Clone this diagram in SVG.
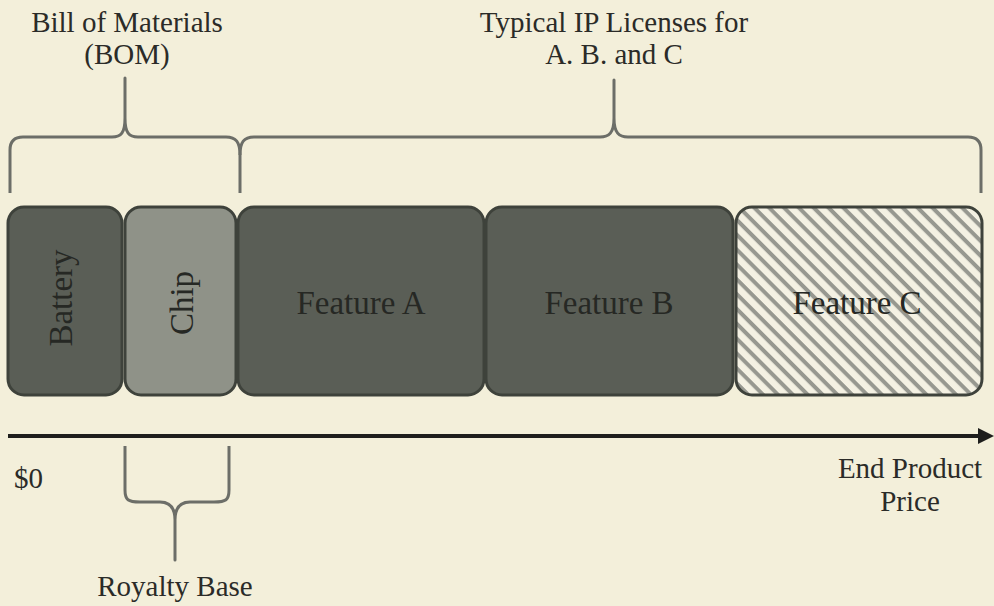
<svg xmlns="http://www.w3.org/2000/svg" width="994" height="606" viewBox="0 0 994 606">
<defs>
<style>
.lbl{font-family:"Liberation Serif","Times New Roman",serif;font-size:29px;fill:#2b2b28;text-anchor:middle}
.box{stroke:#3e423b;stroke-width:3}
.dark{fill:#5a5e56}
.chip{fill:#8f9288}
.btxt{font-family:"Liberation Serif","Times New Roman",serif;font-size:33px;fill:#262824;text-anchor:middle}
.brace{fill:none;stroke:#6c6e68;stroke-width:3;stroke-linejoin:round}
</style>
<pattern id="hatch" patternUnits="userSpaceOnUse" width="10.5" height="10.5" patternTransform="rotate(45)">
<rect width="10.5" height="10.5" fill="#f4f1e3"/>
<rect y="0" width="10.5" height="4" fill="#979890"/>
</pattern>
<marker id="arr" markerWidth="4" markerHeight="4" refX="0.5" refY="2" orient="auto" markerUnits="strokeWidth">
<path d="M0,0 L4,2 L0,4 Z" fill="#1e1e1c"/>
</marker>
</defs>
<rect width="994" height="606" fill="#f3efda"/>

<g id="label-bom">
<text class="lbl" x="127" y="32">Bill of Materials</text>
<text class="lbl" x="127" y="64">(BOM)</text>
</g>
<g id="label-ip">
<text class="lbl" x="614" y="32">Typical IP Licenses for</text>
<text class="lbl" x="614" y="64">A. B. and C</text>
</g>

<g id="battery">
<rect class="box dark" x="8" y="207" width="114" height="188" rx="16"/>
<text class="btxt" transform="translate(72,298) rotate(-90)">Battery</text>
</g>
<g id="chip">
<rect class="box chip" x="125" y="207" width="111" height="188" rx="16"/>
<text class="btxt" transform="translate(193,303) rotate(-90)">Chip</text>
</g>
<g id="feature-a">
<rect class="box dark" x="238" y="207" width="246" height="188" rx="16"/>
<text class="btxt" x="361" y="314">Feature A</text>
</g>
<g id="feature-b">
<rect class="box dark" x="486" y="207" width="247" height="188" rx="16"/>
<text class="btxt" x="609" y="314">Feature B</text>
</g>
<g id="feature-c">
<rect class="box" fill="url(#hatch)" x="736" y="207" width="246" height="188" rx="16"/>
<text class="btxt" x="857" y="314">Feature C</text>
</g>

<g id="connectors">
<path class="brace" d="M10,193 L10,150 Q10,137 23,137 L112,137 C121,137 125,133 125,118 L125,78 L125,118 C125,133 129,137 138,137 L226,137 C236,137 240,142 240,155 L240,193"/>
<path class="brace" d="M240,155 C240,142 244,137 254,137 L600,137 C609,137 614,133 614,118 L614,80 L614,118 C614,133 619,137 628,137 L968,137 Q981,137 981,150 L981,193"/>
<path class="brace" d="M125,446 L125,490 C125,500 128,502 140,502 L160,502 C170,502 175,508 175,520 L175,560 L175,520 C175,508 180,502 190,502 L214,502 C226,502 229,500 229,490 L229,446"/>
<line x1="8" y1="436" x2="980" y2="436" stroke="#1e1e1c" stroke-width="4" marker-end="url(#arr)"/>
</g>

<g id="axis-labels">
<text class="lbl" x="14" y="488" style="text-anchor:start">$0</text>
<text class="lbl" x="910" y="478">End Product</text>
<text class="lbl" x="910" y="511">Price</text>
<text class="lbl" x="175" y="596">Royalty Base</text>
</g>
</svg>
